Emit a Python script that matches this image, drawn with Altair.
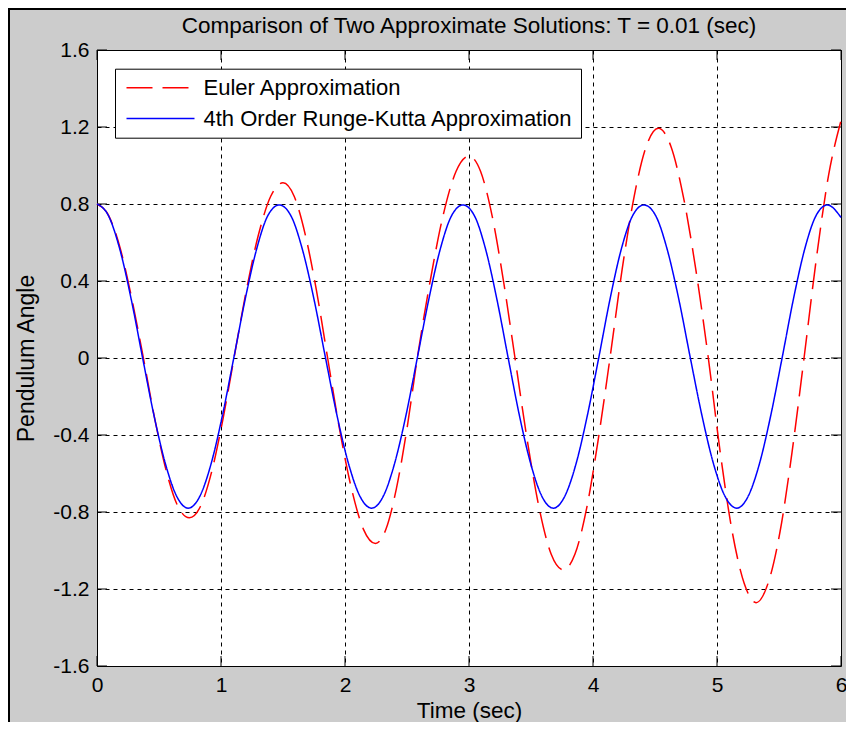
import altair as alt
import pandas as pd

# ---------------- data ----------------
series_names = ["Euler Approximation", "4th Order Runge-Kutta Approximation"]
time_ticks = [0, 1, 2, 3, 4, 5, 6]
angle_ticks = [-1.6, -1.2, -0.8, -0.4, 0, 0.4, 0.8, 1.2, 1.6]

euler_t = [0.000, 0.094, 0.187, 0.280, 0.374, 0.467, 0.560, 0.652, 0.745,
           0.835, 0.925, 1.015, 1.105, 1.204, 1.302, 1.401, 1.500,
           1.590, 1.680, 1.770, 1.860, 1.956, 2.053, 2.149, 2.245,
           2.330, 2.414, 2.499, 2.583, 2.687, 2.791, 2.896, 3.000,
           3.093, 3.186, 3.278, 3.371, 3.468, 3.566, 3.663, 3.760,
           3.854, 3.949, 4.043, 4.137, 4.235, 4.332, 4.430, 4.527,
           4.628, 4.728, 4.829, 4.930, 5.026, 5.122, 5.219, 5.315,
           5.412, 5.509, 5.605, 5.702, 5.800, 5.900, 6.000]
euler_v = [0.80, 0.74, 0.57, 0.31, 0.00, -0.32, -0.59, -0.77, -0.83,
           -0.77, -0.59, -0.32, 0.00, 0.35, 0.64, 0.84, 0.91,
           0.84, 0.64, 0.35, 0.00, -0.37, -0.68, -0.89, -0.963,
           -0.89, -0.68, -0.37, 0.00, 0.40, 0.74, 0.97, 1.049,
           0.97, 0.74, 0.40, 0.00, -0.42, -0.78, -1.02, -1.10,
           -1.02, -0.78, -0.42, 0.00, 0.46, 0.84, 1.10, 1.193,
           1.10, 0.84, 0.46, 0.00, -0.49, -0.90, -1.17, -1.271,
           -1.17, -0.90, -0.49, 0.00, 0.51, 0.95, 1.233]

rk_t = [0.000, 0.092, 0.184, 0.276, 0.368, 0.460, 0.552, 0.644, 0.736,
        0.828, 0.920, 1.011, 1.103, 1.195, 1.287, 1.378, 1.470,
        1.563, 1.656, 1.750, 1.843, 1.936, 2.029, 2.122, 2.215,
        2.307, 2.399, 2.491, 2.583, 2.676, 2.768, 2.860, 2.952,
        3.043, 3.134, 3.225, 3.316, 3.407, 3.498, 3.589, 3.680,
        3.771, 3.863, 3.954, 4.046, 4.137, 4.228, 4.320, 4.411,
        4.505, 4.598, 4.692, 4.785, 4.879, 4.972, 5.066, 5.159,
        5.250, 5.342, 5.433, 5.525, 5.616, 5.707, 5.799, 5.890, 6.000]
rk_v = [0.80, 0.74, 0.565, 0.305, 0.00, -0.30, -0.55, -0.72, -0.78,
        -0.72, -0.55, -0.30, 0.00, 0.305, 0.565, 0.74, 0.795,
        0.74, 0.565, 0.305, 0.00, -0.30, -0.55, -0.72, -0.78,
        -0.72, -0.55, -0.30, 0.00, 0.305, 0.565, 0.74, 0.795,
        0.74, 0.565, 0.305, 0.00, -0.30, -0.55, -0.72, -0.78,
        -0.72, -0.55, -0.30, 0.00, 0.305, 0.565, 0.74, 0.795,
        0.74, 0.565, 0.305, 0.00, -0.30, -0.55, -0.72, -0.78,
        -0.72, -0.55, -0.30, 0.00, 0.305, 0.565, 0.74, 0.795, 0.73]

euler_df = pd.DataFrame({"t": euler_t, "v": euler_v, "series": series_names[0]})
rk_df = pd.DataFrame({"t": rk_t, "v": rk_v, "series": series_names[1]})
xt_df = pd.DataFrame({"t": time_ticks})
yt_df = pd.DataFrame({"v": angle_ticks})
one_df = pd.DataFrame({"a": [0]})

# ---------------- layout ----------------
W, H = 744, 616
PAD_L, PAD_T = 89, 42
TOTAL_W, TOTAL_H = 838, 714
TICK = 10
FONT = "Liberation Sans"

x_scale = alt.Scale(domain=[0, 6], nice=False, zero=False)
y_scale = alt.Scale(domain=[-1.6, 1.6], nice=False, zero=False)

x_axis = alt.Axis(values=time_ticks, title="Time (sec)", grid=True, ticks=False,
                  domain=False, labelPadding=8, format="d",
                  labelFlush=False, labelOverlap=False, titleFontSize=22.5,
                  titleBaseline="alphabetic", titleY=51)
y_axis = alt.Axis(values=angle_ticks, title="Pendulum Angle", grid=True, ticks=False,
                  domain=False, labelPadding=8, titlePadding=14, labelFlush=False,
                  labelOverlap=False, titleFontSize=23,
                  labelExpr="datum.value == 0 ? '0' : (datum.value < 0 ? '-' : '') + format(abs(datum.value), '.1f')")

X = alt.X("t:Q", scale=x_scale, axis=x_axis)
Y = alt.Y("v:Q", scale=y_scale, axis=y_axis)

leg = alt.Legend(title=None, orient="none", legendX=18, legendY=18.7)
color = alt.Color("series:N", scale=alt.Scale(domain=series_names, range=["#ff0000", "#0000ff"]),
                  legend=leg)
dash = alt.StrokeDash("series:N", scale=alt.Scale(domain=series_names, range=[[26, 10], [1, 0]]),
                      legend=leg)

euler_line = alt.Chart(euler_df).mark_line(strokeWidth=1.5, interpolate="monotone").encode(
    x=X, y=Y, color=color, strokeDash=dash)
rk_line = alt.Chart(rk_df).mark_line(strokeWidth=1.5, interpolate="monotone").encode(
    x=X, y=Y, color=color, strokeDash=dash)

tick_bottom = alt.Chart(xt_df).mark_rule(color="black", strokeWidth=1).encode(
    x=X, y=alt.value(H), y2=alt.value(H - TICK))
tick_top = alt.Chart(xt_df).mark_rule(color="black", strokeWidth=1).encode(
    x=X, y=alt.value(0), y2=alt.value(TICK))
tick_left = alt.Chart(yt_df).mark_rule(color="black", strokeWidth=1).encode(
    y=Y, x=alt.value(0), x2=alt.value(TICK))
tick_right = alt.Chart(yt_df).mark_rule(color="black", strokeWidth=1).encode(
    y=Y, x=alt.value(W - TICK), x2=alt.value(W))

border_left = alt.Chart(one_df).mark_rule(color="black", strokeWidth=2).encode(
    x=alt.value(-PAD_L + 1), y=alt.value(-PAD_T), y2=alt.value(TOTAL_H - PAD_T))
border_top = alt.Chart(one_df).mark_rule(color="black", strokeWidth=2).encode(
    y=alt.value(-PAD_T + 1), x=alt.value(-PAD_L), x2=alt.value(TOTAL_W - PAD_L))

chart = alt.layer(
    tick_bottom, tick_top, tick_left, tick_right,
    euler_line, rk_line,
    border_left, border_top,
).properties(
    width=W, height=H,
    autosize=alt.AutoSizeParams(type="none"),
    padding={"left": PAD_L, "top": PAD_T, "right": TOTAL_W - PAD_L - W, "bottom": TOTAL_H - PAD_T - H},
    title=alt.TitleParams("Comparison of Two Approximate Solutions: T = 0.01 (sec)",
                          anchor="middle", offset=0, dy=53, baseline="bottom"),
).configure(
    background="#cccccc", font=FONT
).configure_view(
    stroke="#000000", strokeWidth=1, fill="white"
).configure_axis(
    labelFont=FONT, labelFontSize=21, labelColor="black",
    titleFont=FONT, titleFontSize=22, titleFontWeight="normal", titleColor="black",
    gridColor="black", gridDash=[4, 4], gridWidth=1, gridOpacity=1
).configure_title(
    font=FONT, fontSize=22.5, fontWeight="normal", color="black"
).configure_legend(
    padding=8, strokeColor="black", strokeWidth=1, fillColor="white", cornerRadius=0,
    labelFont=FONT, labelFontSize=22, labelColor="black", labelLimit=0,
    symbolType="M-1,0H6.5556", symbolSize=324, symbolStrokeWidth=1.5,
    symbolOffset=1.5, labelOffset=57, rowPadding=8.8, symbolFillColor="transparent"
)

chart.save("out.html", embed_options={"renderer": "svg", "actions": False})
